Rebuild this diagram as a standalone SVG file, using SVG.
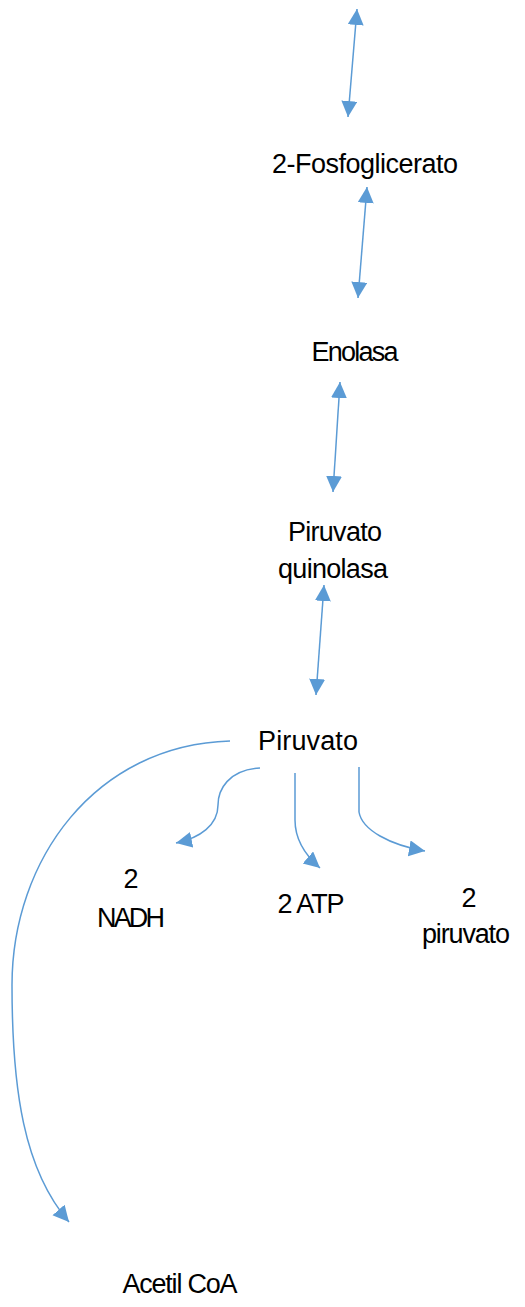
<svg xmlns="http://www.w3.org/2000/svg" width="525" height="1307" viewBox="0 0 525 1307">
<style>
.t{font-family:"Liberation Sans","Open Sans",Arial,sans-serif;font-size:27px;fill:#000;text-anchor:middle}
.c{fill:none;stroke:#5B9BD5;stroke-width:1.5}
</style>
<defs>
<marker id="ah" markerUnits="userSpaceOnUse" markerWidth="18" markerHeight="17" refX="16" refY="8" orient="auto-start-reverse">
<path d="M0,0 L16,8 L0,16 z" fill="#5B9BD5"/>
</marker>
</defs>
<rect width="525" height="1307" fill="#fff"/>
<g id="connectors">
<path class="c" d="M357,9 L348,117" marker-start="url(#ah)" marker-end="url(#ah)"/>
<path class="c" d="M367,187 L358,298" marker-start="url(#ah)" marker-end="url(#ah)"/>
<path class="c" d="M340,382 L333,492" marker-start="url(#ah)" marker-end="url(#ah)"/>
<path class="c" d="M324,585 L316,695" marker-start="url(#ah)" marker-end="url(#ah)"/>
<path class="c" d="M230,741 C95,745 12,860 12,985 C12,1090 24,1170 69,1222" marker-end="url(#ah)"/>
<path class="c" d="M260,768 C228,770 218,790 218,805 C218,825 200,838 176,843" marker-end="url(#ah)"/>
<path class="c" d="M295,773 L295,820 C295,840 305,855 320,868" marker-end="url(#ah)"/>
<path class="c" d="M359,767 L359,812 C362,830 390,845 425,851" marker-end="url(#ah)"/>
</g>
<g id="n-2fosfoglicerato"><text class="t" x="365" y="173" textLength="186">2-Fosfoglicerato</text></g>
<g id="n-enolasa"><text class="t" x="355" y="361" textLength="87">Enolasa</text></g>
<g id="n-piruvato-quinolasa"><text class="t" x="335" y="541" textLength="94">Piruvato</text><text class="t" x="333" y="578" textLength="110">quinolasa</text></g>
<g id="n-piruvato"><text class="t" x="308" y="750" textLength="100">Piruvato</text></g>
<g id="n-nadh"><text class="t" x="131" y="888">2</text><text class="t" x="131" y="927" textLength="68">NADH</text></g>
<g id="n-atp"><text class="t" x="311" y="913" textLength="67">2 ATP</text></g>
<g id="n-2piruvato"><text class="t" x="469" y="907">2</text><text class="t" x="466" y="943" textLength="88">piruvato</text></g>
<g id="n-acetilcoa"><text class="t" x="180" y="1293" textLength="115">Acetil CoA</text></g>
</svg>
